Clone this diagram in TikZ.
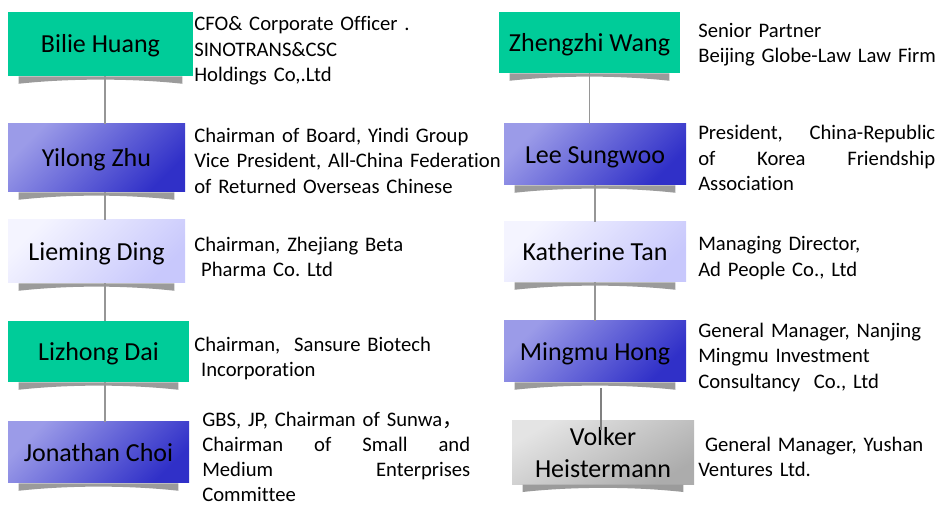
\documentclass[tikz,border=0pt]{standalone}
\usepackage{fontspec}
\setmainfont{Carlito}[Ligatures=NoCommon]
\newfontfamily\cjkfont{Noto Sans CJK SC}
\usetikzlibrary{calc}
\definecolor{boxgreen}{RGB}{0,204,153}
\definecolor{purplelight}{RGB}{155,155,232}
\definecolor{purpledark}{RGB}{48,48,200}
\definecolor{lavlight}{RGB}{244,244,255}
\definecolor{lavdark}{RGB}{200,200,252}
\definecolor{greylight}{RGB}{228,228,228}
\definecolor{greydark}{RGB}{172,172,172}
\definecolor{shadowgrey}{RGB}{155,155,155}
\definecolor{linegrey}{RGB}{150,150,150}

\begin{document}
\begin{tikzpicture}[x=0.75pt,y=-0.75pt,
  namebox/.style={inner sep=0pt, align=center, text height=18.56pt, text depth=5.25pt,
    font=\fontsize{19.5}{23.8}\selectfont},
  boxsize/.style 2 args={minimum width=#1*0.75pt, minimum height=#2*0.75pt},
  greenbox/.style={namebox, fill=boxgreen},
  purplebox/.style={namebox, top color=purplelight, bottom color=purpledark, shading angle=45},
  lavbox/.style={namebox, top color=lavlight, bottom color=lavdark, shading angle=45},
  greybox/.style={namebox, top color=greylight, bottom color=greydark, shading angle=30},
  desc/.style={anchor=base west, inner sep=0pt, align=left, text width=#1*0.75pt,
    font=\fontsize{15.5}{19.125}\selectfont\frenchspacing},
  link/.style={draw=linegrey, line width=1pt}]
\useasboundingbox (0,0) rectangle (940,505);

% left column
\node[greenbox, boxsize={185}{64}] (lid0) at (100.5,44) {Bilie Huang};
\node[purplebox, boxsize={177}{68}] (lid1) at (96.5,158) {Yilong Zhu};
\node[lavbox, boxsize={177}{63}] (lid2) at (96.5,251.5) {Lieming Ding};
\node[greenbox, boxsize={181}{61}] (lid3) at (98.5,351.5) {Lizhong Dai};
\node[purplebox, boxsize={181}{61}] (lid4) at (98.5,452.5) {Jonathan Choi};

\node[desc=330] (ldesc0) at (194,31) {CFO\& Corporate Officer .\\SINOTRANS\&CSC\\Holdings Co,.Ltd};
\node[desc=330] (ldesc1) at (194,142.5) {Chairman of Board, Yindi Group\\Vice President, All-China Federation\\of Returned Overseas Chinese};
\node[desc=330] (ldesc2) at (194,251.5) {Chairman, Zhejiang Beta\\\ Pharma Co. Ltd};
\node[desc=330] (ldesc3) at (194,351.5) {Chairman,\ \ Sansure Biotech\\\ Incorporation};
\node[desc=268, font=\fontsize{15.5}{18.75}\selectfont\frenchspacing] (ldesc4) at (202,426.5) {GBS, JP, Chairman of Sunwa{\cjkfont ，}\\Chairman\hfill of\hfill Small\hfill and\\Medium\hfill Enterprises\\Committee};

% right column
\node[greenbox, boxsize={181}{61}] (rid0) at (589.5,42.5) {Zhengzhi Wang};
\node[purplebox, boxsize={182}{61}] (rid1) at (595,154.5) {Lee Sungwoo};
\node[lavbox, boxsize={182}{60}] (rid2) at (595,252) {Katherine Tan};
\node[purplebox, boxsize={182}{61}] (rid3) at (595,351.5) {Mingmu Hong};
\node[greybox, boxsize={182}{59}, text height=42.36pt] (rid4) at (603,452.5) {Volker\\Heistermann};

\node[desc=300] (rdesc0) at (698,37.2) {Senior Partner\\Beijing Globe-Law Law Firm};
\node[desc=237] (rdesc1) at (698,140) {President,\hfill China-Republic\\of\hfill Korea\hfill Friendship\\Association};
\node[desc=300] (rdesc2) at (698,250.7) {Managing Director,\\Ad People Co., Ltd};
\node[desc=300] (rdesc3) at (698,337.3) {General Manager, Nanjing\\Mingmu Investment\\Consultancy\ \ Co., Ltd};
\node[desc=300] (rdesc4) at (698,451.3) {\ General Manager, Yushan\\Ventures Ltd.};

% shadows under the boxes
\foreach \n in {lid0,lid1,lid2,lid3,lid4,rid0,rid1,rid2,rid3,rid4}
  \fill[shadowgrey] ($(\n.south west)+(11,0)$) -- ++(0,7.5)
    .. controls +(50,-5.5) and +(-50,-5.5) .. ($(\n.south east)+(-11,7.5)$)
    -- ($(\n.south east)+(-11,0)$) -- cycle;

% connectors
\coordinate (lspine) at (105,0);
\draw[link] (lid0.south -| lspine) -- (lid1.north -| lspine);
\draw[link] (lid1.south -| lspine) -- (lid2.north -| lspine);
\draw[link] (lid2.south -| lspine) -- (lid3.north -| lspine);
\draw[link] (lid3.south -| lspine) -- (lid4.north -| lspine);

\draw[link] (rid0.south) -- (rid0.south |- rid1.north);
\draw[link] (rid1.south) -- (rid2.north);
\draw[link] (rid2.south) -- (rid3.north);
\coordinate (vjoin) at (601,430);
\draw[link, draw=gray, line width=1.4pt] (rid3.south -| vjoin) ++(0,6) -- (vjoin);

\end{tikzpicture}
\end{document}
